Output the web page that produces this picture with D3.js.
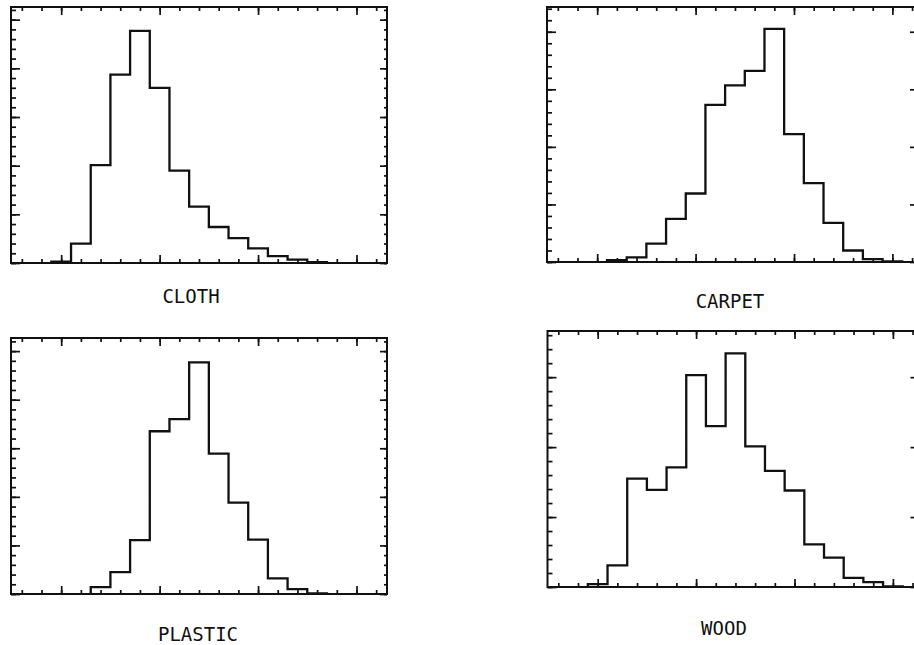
<!DOCTYPE html>
<html>
<head>
<meta charset="utf-8">
<script src="https://cdn.jsdelivr.net/npm/d3@7"></script>
<style>
  html, body { margin: 0; padding: 0; background: #fff; overflow: hidden; }
  svg { display: block; overflow: hidden; }
  .lbl { font-family: "DejaVu Sans Mono", "Liberation Mono", monospace; font-size: 19px; fill: #111; }
</style>
</head>
<body>
<svg id="chart" width="914" height="645"></svg>
<script>
// ---------- data ----------
const categories = ["CLOTH", "CARPET", "PLASTIC", "WOOD"];
// bin centres (tick positions on the x axis)
const binCenters = [-2, -1, 0, 1, 2, 3, 4, 5, 6, 7, 8, 9, 10, 11, 12, 13, 14, 15, 16];
const xMajorTicks = [0, 5, 10, 15];
const clothValues   = [0, 0, 0.03, 0.40, 2.01, 3.87, 4.77, 3.60, 1.90, 1.16, 0.74, 0.51, 0.30, 0.14, 0.07, 0.02, 0, 0, 0];
const carpetValues  = [0, 0, 0, 0.03, 0.08, 0.32, 0.75, 1.19, 2.73, 3.07, 3.32, 4.05, 2.22, 1.37, 0.68, 0.20, 0.05, 0.01, 0];
const plasticValues = [0, 0, 0, 0, 0.14, 0.45, 1.11, 3.35, 3.60, 4.77, 2.89, 1.88, 1.12, 0.32, 0.10, 0.01, 0, 0, 0];
const woodValues    = [0, 0, 0.04, 0.31, 1.55, 1.39, 1.71, 3.03, 2.30, 3.34, 2.01, 1.66, 1.38, 0.61, 0.42, 0.13, 0.07, 0.01, 0];
const yMax = [5.26, 4.43, 5.27, 3.66];
const xMin = -2.55;
const xMax = [16.55, 16.25, 16.55, 16.25];

const seriesValues = [clothValues, carpetValues, plasticValues, woodValues];

// ---------- layout ----------
const panels = [
  { left: 11,    top: 7,   w: 376, h: 256, lx: 191, ly: 303 },
  { left: 547,   top: 7,   w: 370, h: 255, lx: 730, ly: 308 },
  { left: 11,    top: 338, w: 376, h: 256, lx: 198, ly: 641 },
  { left: 547.5, top: 331, w: 370, h: 256, lx: 724, ly: 635 }
];

const svg = d3.select("#chart");
const ink = "#111";

panels.forEach((p, i) => {
  const g = svg.append("g").attr("transform", `translate(${p.left},${p.top})`);
  const x = d3.scaleLinear().domain([xMin, xMax[i]]).range([0, p.w]);
  const y = d3.scaleLinear().domain([0, yMax[i]]).range([p.h, 0]);

  const minorX = binCenters;
  const minorY = d3.range(0, Math.floor(yMax[i] / 0.2) + 1).map(k => +(k * 0.2).toFixed(2));
  const majorY = d3.range(0, Math.floor(yMax[i]) + 1);

  const styleAxis = sel => {
    sel.select(".domain").remove();
    sel.selectAll("text").remove();
    sel.selectAll("line").attr("stroke", ink).attr("stroke-width", 1.7);
  };

  // bottom / top ticks (inward)
  g.append("g").attr("transform", `translate(0,${p.h})`)
    .call(d3.axisBottom(x).tickValues(minorX).tickSizeInner(-4).tickSizeOuter(0).tickFormat("")).call(styleAxis);
  g.append("g").attr("transform", `translate(0,${p.h})`)
    .call(d3.axisBottom(x).tickValues(xMajorTicks).tickSizeInner(-8).tickSizeOuter(0).tickFormat("")).call(styleAxis);
  g.append("g")
    .call(d3.axisTop(x).tickValues(minorX).tickSizeInner(-4).tickSizeOuter(0).tickFormat("")).call(styleAxis);
  g.append("g")
    .call(d3.axisTop(x).tickValues(xMajorTicks).tickSizeInner(-8).tickSizeOuter(0).tickFormat("")).call(styleAxis);

  // left / right ticks (inward)
  g.append("g")
    .call(d3.axisLeft(y).tickValues(minorY).tickSizeInner(-5).tickSizeOuter(0).tickFormat("")).call(styleAxis);
  g.append("g")
    .call(d3.axisLeft(y).tickValues(majorY).tickSizeInner(-9).tickSizeOuter(0).tickFormat("")).call(styleAxis);
  g.append("g").attr("transform", `translate(${p.w},0)`)
    .call(d3.axisRight(y).tickValues(minorY).tickSizeInner(-3).tickSizeOuter(0).tickFormat("")).call(styleAxis);
  g.append("g").attr("transform", `translate(${p.w},0)`)
    .call(d3.axisRight(y).tickValues(majorY).tickSizeInner(-7).tickSizeOuter(0).tickFormat("")).call(styleAxis);

  // frame
  g.append("rect").attr("x", 0).attr("y", 0).attr("width", p.w).attr("height", p.h)
    .attr("fill", "none").attr("stroke", ink).attr("stroke-width", 2);

  // histogram step outline
  const vals = seriesValues[i];
  const nz = vals.map((v, j) => v > 0 ? j : -1).filter(j => j >= 0);
  const first = nz[0], last = nz[nz.length - 1];
  const pts = [[binCenters[first] - 0.5, 0]];
  for (let j = first; j <= last; j++) pts.push([binCenters[j] - 0.5, vals[j]]);
  pts.push([binCenters[last] + 0.5, vals[last]]);
  pts.push([binCenters[last] + 0.5, 0]);
  const line = d3.line().x(d => x(d[0])).y(d => y(d[1])).curve(d3.curveStepAfter);
  g.append("path").attr("d", line(pts)).attr("fill", "none")
    .attr("stroke", ink).attr("stroke-width", 2.3).attr("stroke-linejoin", "miter");

  // label
  svg.append("text").attr("class", "lbl").attr("x", p.lx).attr("y", p.ly)
    .attr("text-anchor", "middle").text(categories[i]);
});
</script>
</body>
</html>
